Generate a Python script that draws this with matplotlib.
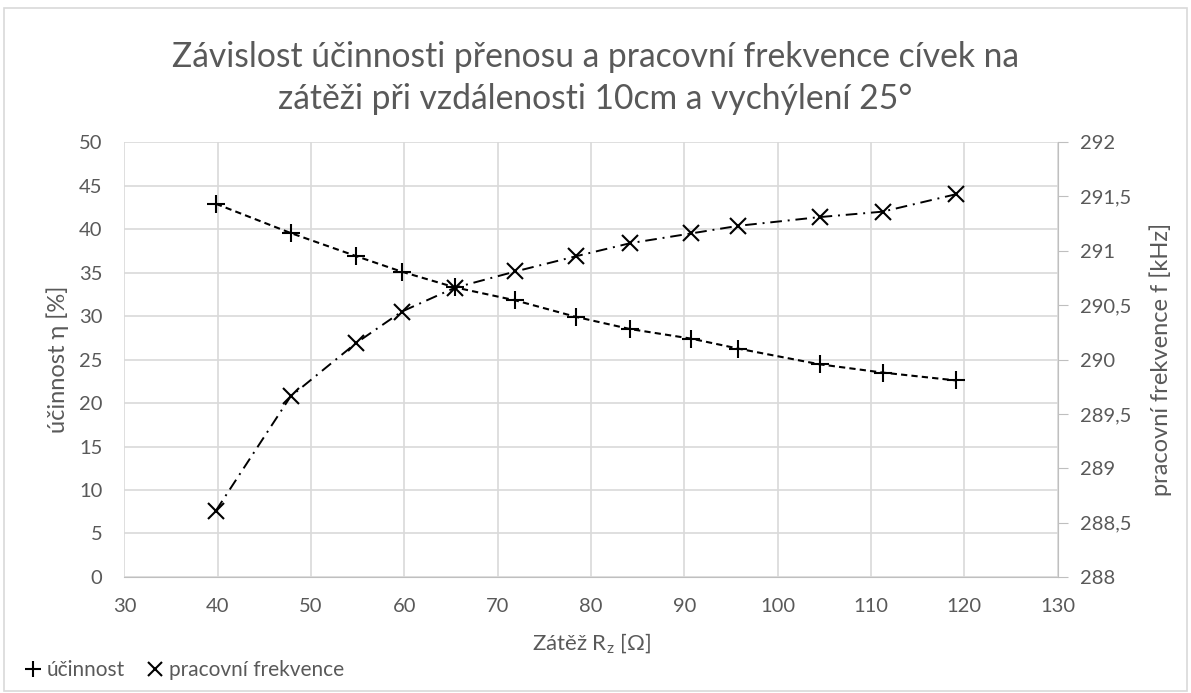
import matplotlib
matplotlib.use('Agg')
import matplotlib.pyplot as plt
from matplotlib.lines import Line2D
from matplotlib.patches import Rectangle
from matplotlib.ticker import FuncFormatter

plt.rcParams['font.family'] = ['Lato', 'DejaVu Sans']
plt.rcParams['mathtext.fontset'] = 'custom'
plt.rcParams['mathtext.rm'] = 'Lato'

# load resistance [Ohm]
zatez = [39.8, 47.8, 54.8, 59.7, 65.4, 71.9, 78.4, 84.2, 90.75, 95.8, 104.5, 111.25, 119.1]
# efficiency [%]
ucinnost = [42.9, 39.55, 36.9, 35.1, 33.3, 31.8, 29.9, 28.5, 27.4, 26.25, 24.45, 23.5, 22.6]
# operating frequency [kHz]
frekvence = [288.61, 289.66, 290.15, 290.44, 290.66, 290.81, 290.95, 291.07, 291.16,
             291.23, 291.31, 291.36, 291.52]

txt = '#595959'
grid = '#D9D9D9'

fig = plt.figure(figsize=(11.91, 6.93), dpi=100)
ax = fig.add_axes([0.1045, 0.1674, 0.7835, 0.6276])
ax2 = ax.twinx()

ax.plot(zatez, ucinnost, color='black', lw=1.5, ls=(0, (3, 2)),
        marker='+', ms=13, mew=1.5, zorder=3)
ax2.plot(zatez, frekvence, color='black', lw=1.4, ls=(0, (6, 3, 1, 3)),
         marker='x', ms=11, mew=1.5, zorder=3)

ax.set_xlim(30, 130)
ax.set_ylim(0, 50)
ax2.set_ylim(288, 292)
ax.set_xticks(range(30, 131, 10))
ax.set_yticks(range(0, 51, 5))
ax2.set_yticks([288 + 0.5 * i for i in range(9)])
ax2.yaxis.set_major_formatter(FuncFormatter(lambda v, p: ('%g' % v).replace('.', ',')))

ax.grid(True, color=grid, lw=1.2)
ax.set_axisbelow(True)
for a in (ax, ax2):
    for s in a.spines.values():
        s.set_visible(False)
ax2.spines['right'].set_visible(True)
ax2.spines['right'].set_color('#BFBFBF')
ax.spines['bottom'].set_visible(True)
ax.spines['bottom'].set_color('#BFBFBF')

ax.tick_params(axis='x', length=0, colors=txt, labelsize=14.5, pad=15)
ax.tick_params(axis='y', length=0, colors=txt, labelsize=14.5, pad=16)
ax2.tick_params(axis='y', length=7, color='#BFBFBF', labelcolor=txt, labelsize=14.5, pad=9)

ax.set_ylabel('účinnost η [%]', color=txt, fontsize=17, labelpad=7)
ax2.set_ylabel('pracovní frekvence f [kHz]', color=txt, fontsize=17, labelpad=13)
ax.set_xlabel(r'Zátěž R$_\mathregular{z}$ [Ω]', color=txt, fontsize=16, labelpad=12)

fig.text(0.5, 0.8874, 'Závislost účinnosti přenosu a pracovní frekvence cívek na\n'
         'zátěži při vzdálenosti 10cm a vychýlení 25°',
         color=txt, fontsize=24.2, ha='center', va='center', linespacing=1.42)

handles = [Line2D([], [], color='black', ls='none', marker='+', ms=12, mew=1.5),
           Line2D([], [], color='black', ls='none', marker='x', ms=10, mew=1.5)]
leg = fig.legend(handles, ['účinnost', 'pracovní frekvence'], loc='center left',
                 bbox_to_anchor=(0.022, 23 / 693), ncol=2, frameon=False, fontsize=15,
                 handlelength=0.7, handletextpad=0.3, columnspacing=1.1,
                 borderpad=0, borderaxespad=0)
for t in leg.get_texts():
    t.set_color(txt)

fig.patches.append(Rectangle((0.003, 0.003), 0.994, 0.985, transform=fig.transFigure,
                             fill=False, edgecolor='#D9D9D9', lw=1.2))

fig.savefig('out.png', dpi=100)
